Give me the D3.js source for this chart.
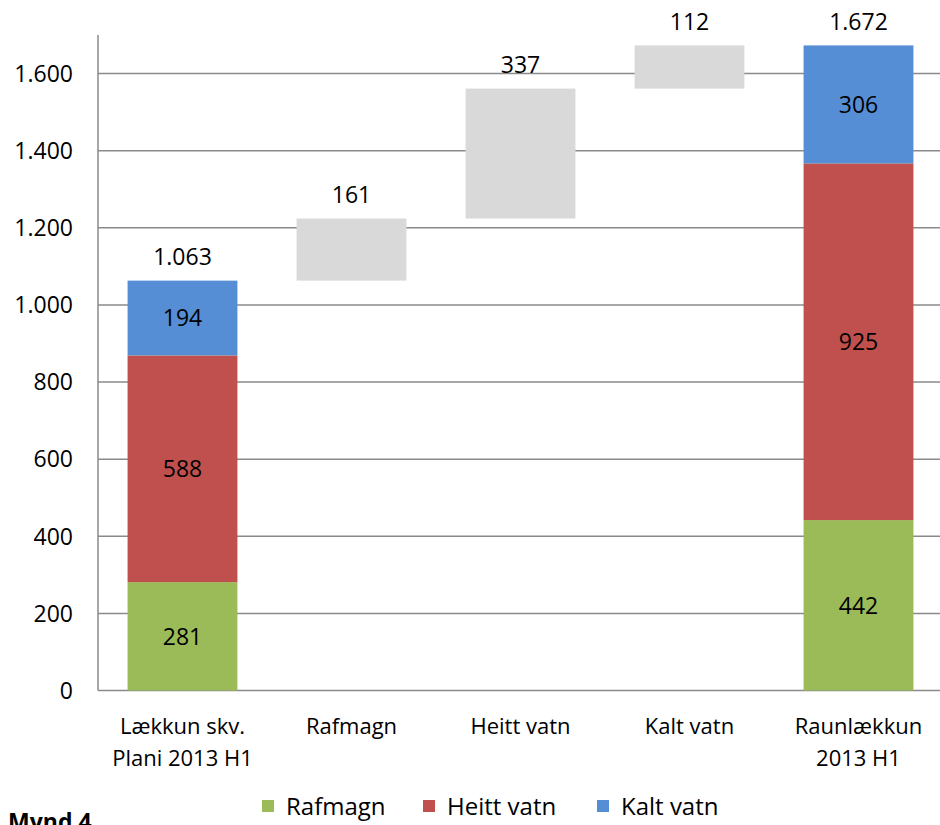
<!DOCTYPE html>
<html>
<head>
<meta charset="utf-8">
<script src="https://cdn.jsdelivr.net/npm/d3@7"></script>
<style>
  body { margin: 0; background: #fff; }
  text { font-family: "Open Sans", sans-serif; fill: #000; }
</style>
</head>
<body>
<script>
var width = 940,
    height = 825

// categories (multi-line labels)
var categories = [["Lækkun skv.", "Plani 2013 H1"], ["Rafmagn"], ["Heitt vatn"], ["Kalt vatn"], ["Raunlækkun", "2013 H1"]];
var seriesNames = ["Rafmagn", "Heitt vatn", "Kalt vatn"];
var seriesColors = ["#9bbb59", "#c0504d", "#558ed5"];

// stacked start / end bars
var startValues = [281, 588, 194];
var endValues = [442, 925, 306];
// floating step bars (Rafmagn, Heitt vatn, Kalt vatn)
var stepValues = [161, 337, 112];
// labels shown above each column
var topLabels = [1063, 161, 337, 112, 1672];
var yTicks = [0, 200, 400, 600, 800, 1000, 1200, 1400, 1600];

var margin = {top: 35, left: 98, bottom: 134.5, right: -3};

var fmt = d3.formatLocale({decimal: ",", thousands: ".", grouping: [3], currency: ["", ""]}).format(",d");

var svg = d3.select("body").append("svg")
    .attr("width", width)
    .attr("height", height);

var x = d3.scaleBand()
    .domain(d3.range(categories.length))
    .range([margin.left, width - margin.right])
    .paddingInner(0.35)
    .paddingOuter(0.175);

var y = d3.scaleLinear()
    .domain([0, 1700])
    .range([height - margin.bottom, margin.top]);

// gridlines
svg.append("g")
    .selectAll("line")
    .data(yTicks)
    .enter().append("line")
    .attr("x1", margin.left)
    .attr("x2", width)
    .attr("y1", function(d) { return y(d); })
    .attr("y2", function(d) { return y(d); })
    .attr("stroke", "#8a8a8a")
    .attr("stroke-width", 1.5);

// y axis line
svg.append("line")
    .attr("x1", margin.left).attr("x2", margin.left)
    .attr("y1", y(1700)).attr("y2", y(0))
    .attr("stroke", "#8a8a8a")
    .attr("stroke-width", 1.5);

// y tick labels
svg.append("g")
    .selectAll("text")
    .data(yTicks)
    .enter().append("text")
    .attr("x", margin.left - 25)
    .attr("y", function(d) { return y(d); })
    .attr("dy", "0.36em")
    .attr("text-anchor", "end")
    .style("font-size", "23px")
    .text(function(d) { return fmt(d); });

// build segments
var segments = [];
function addStack(idx, vals) {
  var base = 0;
  vals.forEach(function(v, i) {
    segments.push({col: idx, y0: base, y1: base + v, color: seriesColors[i], label: v});
    base += v;
  });
}
addStack(0, startValues);
var running = d3.sum(startValues);
stepValues.forEach(function(v, i) {
  segments.push({col: i + 1, y0: running, y1: running + v, color: "#d9d9d9", label: null});
  running += v;
});
addStack(4, endValues);

svg.append("g")
    .selectAll("rect")
    .data(segments)
    .enter().append("rect")
    .attr("x", function(d) { return x(d.col); })
    .attr("width", x.bandwidth())
    .attr("y", function(d) { return y(d.y1); })
    .attr("height", function(d) { return y(d.y0) - y(d.y1); })
    .attr("fill", function(d) { return d.color; });

// inner labels
svg.append("g")
    .selectAll("text")
    .data(segments.filter(function(d) { return d.label != null; }))
    .enter().append("text")
    .attr("x", function(d) { return x(d.col) + x.bandwidth() / 2; })
    .attr("y", function(d) { return y((d.y0 + d.y1) / 2); })
    .attr("dy", "0.36em")
    .attr("text-anchor", "middle")
    .style("font-size", "23px")
    .text(function(d) { return fmt(d.label); });

// top labels
var tops = [d3.sum(startValues)];
running = d3.sum(startValues);
stepValues.forEach(function(v) { running += v; tops.push(running); });
tops.push(d3.sum(endValues));

svg.append("g")
    .selectAll("text")
    .data(topLabels)
    .enter().append("text")
    .attr("x", function(d, i) { return x(i) + x.bandwidth() / 2; })
    .attr("y", function(d, i) { return y(tops[i]) - 24; })
    .attr("dy", "0.36em")
    .attr("text-anchor", "middle")
    .style("font-size", "23px")
    .text(function(d) { return fmt(d); });

// category labels
var cat = svg.append("g")
    .selectAll("text")
    .data(categories)
    .enter().append("text")
    .attr("x", function(d, i) { return x(i) + x.bandwidth() / 2; })
    .attr("y", 734)
    .attr("text-anchor", "middle")
    .style("font-size", "22px");
cat.selectAll("tspan")
    .data(function(d) { return d; })
    .enter().append("tspan")
    .attr("x", function() { return d3.select(this.parentNode).attr("x"); })
    .attr("dy", function(d, i) { return i ? 32 : 0; })
    .text(function(d) { return d; });

// legend
var legendX = [262, 423, 597];
var legend = svg.append("g")
    .selectAll("g")
    .data(seriesNames)
    .enter().append("g")
    .attr("transform", function(d, i) { return "translate(" + legendX[i] + ",800)"; });
legend.append("rect")
    .attr("width", 12).attr("height", 12)
    .attr("fill", function(d, i) { return seriesColors[i]; });
legend.append("text")
    .attr("x", 24)
    .attr("y", 6)
    .attr("dy", "0.36em")
    .style("font-size", "24px")
    .text(function(d) { return d; });

// caption, cut off at bottom like the original page
svg.append("text")
    .attr("x", 8)
    .attr("y", 830)
    .style("font-size", "23px")
    .style("font-weight", "bold")
    .text("Mynd 4");
</script>
</body>
</html>
